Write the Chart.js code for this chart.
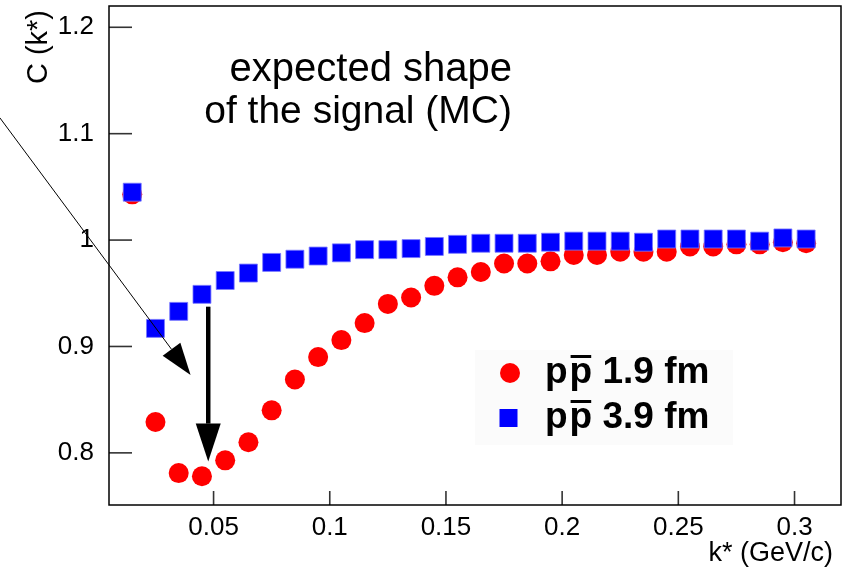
<!DOCTYPE html>
<html>
<head>
<meta charset="utf-8">
<script src="https://cdn.jsdelivr.net/npm/chart.js@4.4.1/dist/chart.umd.min.js"></script>
<style>
  html, body { margin: 0; padding: 0; background: #ffffff; }
  #wrap { width: 843px; height: 572px; }
</style>
</head>
<body>
<div id="wrap"><canvas id="c" width="843" height="572"></canvas></div>
<script>
// ---- data ----
const kValues = [0.015, 0.025, 0.035, 0.045, 0.055, 0.065, 0.075, 0.085, 0.095, 0.105,
                 0.115, 0.125, 0.135, 0.145, 0.155, 0.165, 0.175, 0.185, 0.195, 0.205,
                 0.215, 0.225, 0.235, 0.245, 0.255, 0.265, 0.275, 0.285, 0.295, 0.305];
const c19fm = [1.043, 0.829, 0.781, 0.778, 0.793, 0.810, 0.840, 0.869, 0.890, 0.906,
               0.922, 0.940, 0.946, 0.957, 0.965, 0.970, 0.978, 0.978, 0.980, 0.986,
               0.986, 0.989, 0.989, 0.989, 0.994, 0.994, 0.996, 0.996, 0.998, 0.997];
const c39fm = [1.045, 0.917, 0.933, 0.949, 0.962, 0.969, 0.979, 0.982, 0.985, 0.988,
               0.991, 0.991, 0.992, 0.994, 0.996, 0.997, 0.997, 0.997, 0.998, 0.999,
               0.999, 0.999, 0.998, 1.001, 1.001, 1.001, 1.001, 0.999, 1.002, 1.001];
const seriesLabels = ['1.9 fm', '3.9 fm'];
const xTicks = [0.05, 0.1, 0.15, 0.2, 0.25, 0.3];
const xTickLabels = ['0.05', '0.1', '0.15', '0.2', '0.25', '0.3'];
const yTicks = [0.8, 0.9, 1.0, 1.1, 1.2];
const yTickLabels = ['0.8', '0.9', '1', '1.1', '1.2'];
const xTitle = 'k* (GeV/c)';
const yTitle = 'C (k*)';
const noteLines = ['expected shape', 'of the signal (MC)'];

const FONT = '"Liberation Sans", Arial, Helvetica, sans-serif';
const RED = '#ff0000';
const BLUE = '#0000ff';

const toPoints = (ys) => kValues.map((k, i) => ({ x: k, y: ys[i] }));

// annotation arrows in data coordinates
const thinArrow = { from: [-0.042, 1.115], to: [0.0401, 0.8732] };
const thickArrow = { from: [0.0477, 0.9374], to: [0.0477, 0.7918] };

function drawArrow(ctx, x1, y1, x2, y2, lw, headLen, headW) {
  const ang = Math.atan2(y2 - y1, x2 - x1);
  const bx = x2 - headLen * Math.cos(ang), by = y2 - headLen * Math.sin(ang);
  ctx.save();
  ctx.strokeStyle = '#000'; ctx.fillStyle = '#000';
  ctx.lineWidth = lw;
  ctx.beginPath(); ctx.moveTo(x1, y1); ctx.lineTo(bx, by); ctx.stroke();
  const nx = -Math.sin(ang), ny = Math.cos(ang);
  ctx.beginPath();
  ctx.moveTo(x2, y2);
  ctx.lineTo(bx + nx * headW / 2, by + ny * headW / 2);
  ctx.lineTo(bx - nx * headW / 2, by - ny * headW / 2);
  ctx.closePath(); ctx.fill();
  ctx.restore();
}

const decorPlugin = {
  id: 'decor',
  beforeDatasetsDraw(chart) {
    const { ctx } = chart;
    ctx.save();
    ctx.fillStyle = '#fbfbfb';
    ctx.fillRect(475, 350, 258, 95);
    ctx.restore();
  },
  afterDatasetsDraw(chart) {
    const { ctx, chartArea: a, scales: { x, y } } = chart;
    ctx.save();
    // inward tick marks
    ctx.strokeStyle = '#333'; ctx.lineWidth = 1.6;
    yTicks.forEach(v => {
      const py = y.getPixelForValue(v);
      ctx.beginPath(); ctx.moveTo(a.left, py); ctx.lineTo(a.left + 23, py); ctx.stroke();
    });
    xTicks.forEach(v => {
      const px = x.getPixelForValue(v);
      ctx.beginPath(); ctx.moveTo(px, a.bottom); ctx.lineTo(px, a.bottom - 14); ctx.stroke();
    });
    // frame
    ctx.strokeStyle = '#000'; ctx.lineWidth = 1.5;
    ctx.strokeRect(a.left, a.top, a.right - a.left, a.bottom - a.top);
    ctx.restore();

    // arrows
    drawArrow(ctx, x.getPixelForValue(thinArrow.from[0]), y.getPixelForValue(thinArrow.from[1]),
      x.getPixelForValue(thinArrow.to[0]), y.getPixelForValue(thinArrow.to[1]), 1, 32, 22);
    drawArrow(ctx, x.getPixelForValue(thickArrow.from[0]), y.getPixelForValue(thickArrow.from[1]),
      x.getPixelForValue(thickArrow.to[0]), y.getPixelForValue(thickArrow.to[1]), 4.5, 38, 25);

    // annotation text
    ctx.save();
    ctx.fillStyle = '#000';
    ctx.font = '40px ' + FONT;
    ctx.textAlign = 'right'; ctx.textBaseline = 'alphabetic';
    ctx.fillText(noteLines[0], 512, 81);
    ctx.font = '39px ' + FONT;
    ctx.fillText(noteLines[1], 512, 123);

    // axis titles
    ctx.font = '27px ' + FONT;
    ctx.textAlign = 'right';
    ctx.fillText(xTitle, 833, 561);
    ctx.save();
    ctx.font = '29px ' + FONT;
    ctx.translate(47, 10);
    ctx.rotate(-Math.PI / 2);
    ctx.textAlign = 'right';
    ctx.fillText(yTitle, 0, 0);
    ctx.restore();

    // legend
    const rows = [
      { cy: 373, style: 'circle', color: RED, label: seriesLabels[0] },
      { cy: 418, style: 'rect', color: BLUE, label: seriesLabels[1] }
    ];
    ctx.font = 'bold 37px ' + FONT;
    ctx.textAlign = 'left'; ctx.textBaseline = 'middle';
    rows.forEach(r => {
      ctx.fillStyle = r.color;
      if (r.style === 'circle') {
        ctx.beginPath(); ctx.arc(510, r.cy, 10, 0, Math.PI * 2); ctx.fill();
      } else {
        ctx.fillRect(508.5 - 9, r.cy - 9, 18, 18);
      }
      ctx.fillStyle = '#000';
      let tx = 545;
      ctx.fillText('p', tx, r.cy);
      const wp = ctx.measureText('p').width;
      tx += wp + 2;
      ctx.fillText('p', tx, r.cy);
      ctx.fillRect(tx + 1, r.cy - 18, wp - 2, 3);
      tx += wp;
      ctx.fillText(' ' + r.label, tx, r.cy);
    });
    ctx.restore();
  }
};

new Chart(document.getElementById('c'), {
  type: 'scatter',
  data: {
    datasets: [
      {
        label: 'pp 3.9 fm',
        data: toPoints(c39fm),
        pointStyle: 'rect',
        pointRadius: 12.7,
        pointHoverRadius: 12.7,
        backgroundColor: BLUE,
        borderColor: 'rgba(120,120,255,0.8)',
        borderWidth: 1,
        order: 1
      },
      {
        label: 'pp 1.9 fm',
        data: toPoints(c19fm),
        pointStyle: 'circle',
        pointRadius: 10,
        pointHoverRadius: 10,
        backgroundColor: RED,
        borderColor: RED,
        borderWidth: 0,
        order: 2
      }
    ]
  },
  options: {
    responsive: false,
    animation: false,
    devicePixelRatio: 1,
    layout: { autoPadding: false, padding: { top: 6, right: 2, left: 0, bottom: 0 } },
    plugins: { legend: { display: false }, tooltip: { enabled: false } },
    scales: {
      x: {
        type: 'linear',
        min: 0.005, max: 0.32,
        afterBuildTicks: s => { s.ticks = xTicks.map(v => ({ value: v })); },
        afterFit: s => { s.height = 67; s.paddingLeft = 0; s.paddingRight = 0; },
        grid: { display: false },
        border: { display: false },
        ticks: {
          autoSkip: false, maxRotation: 0, padding: -1,
          color: '#000', font: { family: FONT, size: 26 },
          callback: v => xTickLabels[xTicks.indexOf(v)]
        }
      },
      y: {
        type: 'linear',
        min: 0.751, max: 1.22,
        afterBuildTicks: s => { s.ticks = yTicks.map(v => ({ value: v })); },
        afterFit: s => { s.width = 109; s.paddingTop = 0; s.paddingBottom = 0; },
        grid: { display: false },
        border: { display: false },
        ticks: {
          autoSkip: false, padding: 7,
          color: '#000', font: { family: FONT, size: 26 },
          callback: v => yTickLabels[yTicks.indexOf(v)]
        }
      }
    }
  },
  plugins: [decorPlugin]
});
</script>
</body>
</html>
